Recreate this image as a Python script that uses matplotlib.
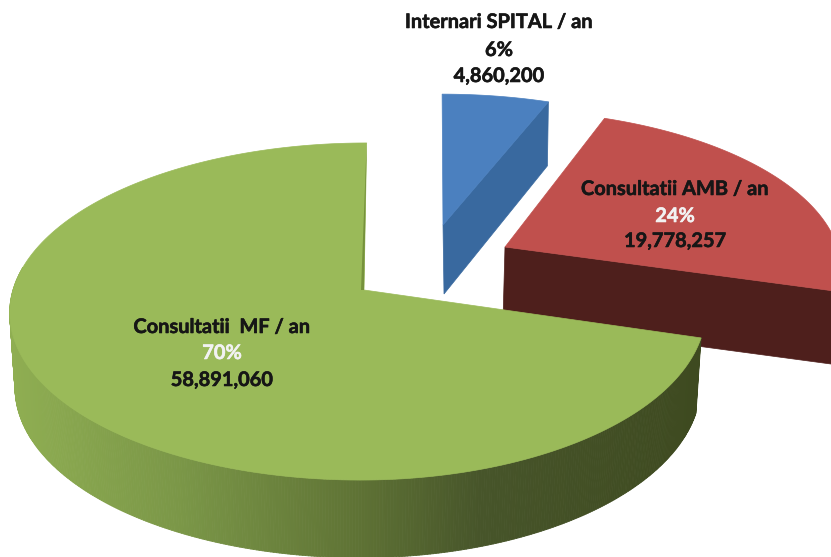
import numpy as np
import matplotlib
matplotlib.use('Agg')
import matplotlib.pyplot as plt
import matplotlib.patheffects as pe
from matplotlib.collections import PolyCollection
from matplotlib.colors import LinearSegmentedColormap

# data
names = ['Consultatii  MF / an', 'Consultatii AMB / an', 'Internari SPITAL / an']
values = [58891060, 19778257, 4860200]
percents = ['70%', '24%', '6%']
value_labels = ['58,891,060', '19,778,257', '4,860,200']

# slice angles, going counter clockwise from the top
frac = np.array(values) / np.sum(values)
edges = 90 + np.concatenate([[0], np.cumsum(frac) * 360])

KP = 0.1276   # perspective, back of the pie is smaller


def project(t, apex, sx=1.0, sy=1.0, shear=3.0, drop=0.0, shrink=1.0):
    # point on the rim of the pie for angle t (degrees), in picture pixels
    c = np.cos(np.radians(t))
    s = np.sin(np.radians(t))
    w = 1 + KP * s
    a = np.where(c < 0, 351.0, 339.4)
    x = apex[0] + (a * c * sx * shrink + shear * s) / w
    # the wall looks a little taller at the front
    y = apex[1] - 165.8 * s * sy / w + drop * (1 + 0.05 * np.maximum(-s, 0))
    return x, y


def face(t0, t1, apex, **kw):
    t = np.linspace(t0, t1, 200)
    x, y = project(t, apex, **kw)
    return np.r_[apex[0], x], np.r_[apex[1], y]


fig = plt.figure(figsize=(8.31, 5.57), dpi=100)
ax = fig.add_axes([0, 0, 1, 1])
ax.set_xlim(0, 831)
ax.set_ylim(557, 0)
ax.axis('off')

# red slice
red_apex = (505, 247)
red_kw = dict(sx=0.98, sy=0.93, shear=-8)
x1, y1 = project(edges[1], red_apex, **red_kw)
x2, y2 = project(edges[1], red_apex, drop=72, shrink=0.99, **red_kw)
ax.fill([red_apex[0], x1, x2, red_apex[0] - 2], [red_apex[1], y1, y2, red_apex[1] + 73],
        color='#4e1f1c', lw=0.5)
x, y = face(edges[1], edges[2], red_apex, **red_kw)
ax.fill(x, y, color='#c0504d', lw=0.5)

# blue slice
blue_apex = (443, 225)
blue_kw = dict(sx=0.98, sy=0.89, shear=-1)
x1, y1 = project(edges[2], blue_apex, **blue_kw)
ax.fill([blue_apex[0], x1, x1 - 1, blue_apex[0] + 1],
        [blue_apex[1], y1, y1 + 64, blue_apex[1] + 69],
        color='#39699f', lw=0.5)
x, y = face(edges[2], edges[3], blue_apex, **blue_kw)
ax.fill(x, y, color='#4b80bf', lw=0.5)

# green slice, outer wall with the gradient
green_apex = (364, 290)
green_cmap = LinearSegmentedColormap.from_list(
    'wall', [(0, '#8fae52'), (0.25, '#7a9647'), (0.5, '#5f7335'), (0.68, '#47552a'), (1, '#3e4a20')])
t = np.linspace(172, edges[1], 400)
xt, yt = project(t, green_apex)
xb, yb = project(t, green_apex, drop=74, shrink=0.985)
quads = [[(xt[i], yt[i]), (xt[i + 1], yt[i + 1]), (xb[i + 1], yb[i + 1]), (xb[i], yb[i])]
         for i in range(len(t) - 1)]
cols = green_cmap((xt[:-1] - xt.min()) / (xt.max() - xt.min()))
ax.add_collection(PolyCollection(quads, facecolors=cols, edgecolors=cols, linewidths=0.6))
x, y = face(edges[0], edges[1], green_apex)
ax.fill(x, y, color='#9aba59', lw=0.5)

# thin darker sliver on the straight edge at the top of the slice
xe, ye = project(edges[0], green_apex)
ax.fill([green_apex[0], xe, green_apex[0] - 3], [green_apex[1], ye, green_apex[1]],
        color='#76923c', lw=0)

# labels
font = dict(family='Lato', fontweight='bold', fontsize=14.4, ha='center', va='center', color='#161616')
label_pos = [(222, 327, 353, 380), (675, 189, 216, 241), (499, 22, 50, 76)]
pct_cols = ['#f2f2f2', '#f2f2f2', '#161616']
for i in range(3):
    px, y1, y2, y3 = label_pos[i]
    for txt, yy, col in [(names[i], y1, '#161616'), (percents[i], y2, pct_cols[i]), (value_labels[i], y3, '#161616')]:
        tt = ax.text(px, yy, txt, **{**font, 'color': col})
        tt.set_path_effects([pe.withStroke(linewidth=0.4, foreground=col)])

fig.savefig('out.png', dpi=100)
